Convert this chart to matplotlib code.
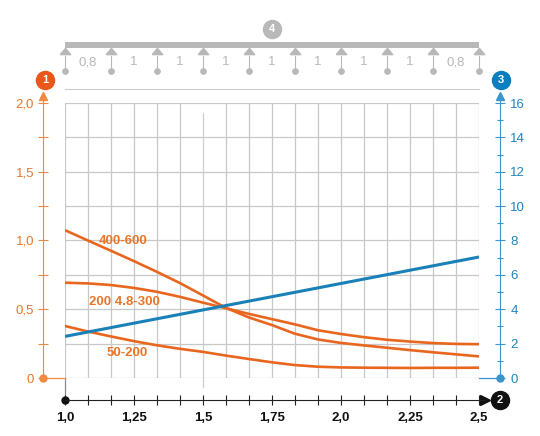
import numpy as np
import matplotlib.pyplot as plt
from matplotlib.ticker import FixedLocator, FixedFormatter

plt.rcParams['font.family'] = ['Liberation Sans', 'DejaVu Sans']

# curve data (left axis) at every grid column
x = [1.0, 1.083, 1.167, 1.25, 1.333, 1.417, 1.5, 1.583, 1.667, 1.75,
     1.833, 1.917, 2.0, 2.083, 2.167, 2.25, 2.333, 2.417, 2.5]
y_400_600 = [1.075, 1.0, 0.925, 0.85, 0.772, 0.69, 0.6, 0.51, 0.44, 0.385,
             0.322, 0.28, 0.255, 0.237, 0.22, 0.203, 0.187, 0.172, 0.157]
y_200_300 = [0.693, 0.688, 0.676, 0.655, 0.627, 0.59, 0.548, 0.507, 0.466, 0.428,
             0.39, 0.347, 0.32, 0.297, 0.278, 0.265, 0.254, 0.248, 0.246]
y_50_200 = [0.378, 0.338, 0.302, 0.268, 0.238, 0.212, 0.19, 0.163, 0.138, 0.114,
            0.094, 0.082, 0.077, 0.075, 0.074, 0.073, 0.074, 0.074, 0.075]
curve_names = ['400-600', '200 4.8-300', '50-200']
label_pos = [(1.212, 1.0), (1.214, 0.553), (1.225, 0.182)]

# blue line (right axis)
x_blue = [1.0, 2.5]
y_blue = [2.42, 7.04]

# top beam spans
spans = ['0,8', '1', '1', '1', '1', '1', '1', '1', '0,8']

left_ticks = [0, 0.5, 1.0, 1.5, 2.0]
left_labels = ['0', '0,5', '1,0', '1,5', '2,0']
right_ticks = [0, 2, 4, 6, 8, 10, 12, 14, 16]
bottom_ticks = [1.0, 1.25, 1.5, 1.75, 2.0, 2.25, 2.5]
bottom_labels = ['1,0', '1,25', '1,5', '1,75', '2,0', '2,25', '2,5']

orange = '#e8661e'
orange_ax = '#f08a40'
orange_txt = '#e8762a'
blue = '#1a80b8'
blue_ax = '#3a95cc'
blue_txt = '#1f84bf'
grid_c = '#c8c8c8'
gray = '#b8b8b8'

fig = plt.figure(figsize=(5.4, 4.36), dpi=100)
ax = fig.add_axes([65/540, 58/436, 414/540, 275/436])
ax.set_xlim(1.0, 2.5)
ax.set_ylim(0, 2.0)
ax2 = ax.twinx()
ax2.set_ylim(0, 16)

# grid
gx = np.linspace(1.0, 2.5, 19)
for g in gx:
    if abs(g - 1.5) < 1e-6:
        continue
    ax.plot([g, g], [0, 2.0], color=grid_c, lw=0.9, zorder=0)
ax.plot([1.5, 1.5], [-0.065, 1.927], color='#cfcfcf', lw=0.9, zorder=0, clip_on=False)
ax.plot([1.0, 1.0], [-0.16, 0], color='#8a8a8a', lw=0.9, zorder=0, clip_on=False)
for g in np.arange(0, 2.01, 0.25):
    ax.plot([1.0, 2.5], [g, g], color=grid_c, lw=0.9, zorder=0)
ax.plot([1.0, 2.5], [2.10, 2.10], color='#cccccc', lw=0.8, clip_on=False)

# curves
for yy in (y_400_600, y_200_300, y_50_200):
    ax.plot(x, yy, color=orange, lw=1.9, solid_capstyle='butt',
            solid_joinstyle='round', zorder=3)
ax2.plot(x_blue, y_blue, color=blue, lw=2.2, solid_capstyle='butt', zorder=4)
for name, (lx, ly) in zip(curve_names, label_pos):
    ax.text(lx, ly, name, color=orange_txt, fontsize=9.5, fontweight='bold',
            ha='center', va='center', zorder=5)

# spines
for s in ['top', 'right']:
    ax.spines[s].set_visible(False)
for s in ['top', 'left', 'bottom']:
    ax2.spines[s].set_visible(False)
ax.spines['left'].set_position(('axes', -0.0531))
ax.spines['left'].set_color(orange_ax)
ax.spines['left'].set_bounds(0, 2.05)
ax.spines['bottom'].set_position(('axes', -0.08))
ax.spines['bottom'].set_color('#222222')
ax.spines['bottom'].set_bounds(1.0, 2.52)
ax2.spines['right'].set_position(('axes', 1.0507))
ax2.spines['right'].set_color(blue_ax)
ax2.spines['right'].set_bounds(0, 16.4)

ax.yaxis.set_major_locator(FixedLocator(left_ticks))
ax.yaxis.set_major_formatter(FixedFormatter(left_labels))
ax.yaxis.set_minor_locator(FixedLocator([0.25, 0.75, 1.25, 1.75]))
ax.tick_params(axis='y', which='both', direction='inout', length=7, width=0.8,
               color=orange_ax, labelcolor=orange_txt, labelsize=9.5, pad=3)
ax.xaxis.set_major_locator(FixedLocator(bottom_ticks))
ax.xaxis.set_major_formatter(FixedFormatter(bottom_labels))
ax.xaxis.set_minor_locator(FixedLocator(gx))
ax.tick_params(axis='x', which='both', direction='inout', length=7, width=0.8,
               color='#222222', labelcolor='#111111', labelsize=9.5, pad=5)
for t in ax.get_xticklabels():
    t.set_fontweight('bold')
ax2.yaxis.set_major_locator(FixedLocator(right_ticks))
ax2.yaxis.set_minor_locator(FixedLocator(range(1, 16, 2)))
ax2.tick_params(axis='y', which='major', direction='inout', length=7, width=0.8,
                color=blue_ax, labelcolor=blue_txt, labelsize=9.5, pad=4)
ax2.tick_params(axis='y', which='minor', direction='inout', length=4, width=0.8,
                color=blue_ax)

# axis ends: dots, arrows, numbered circles
ty = ax.get_yaxis_transform()
tx = ax.get_xaxis_transform()
ax.plot([-0.0531, 0], [0, 0], color=orange_ax, lw=0.9, transform=ty, clip_on=False)
ax.plot([-0.0531], [0], 'o', ms=5, color=orange_ax, transform=ty, clip_on=False)
ax.plot([-0.0531], [2.051], '^', ms=5.5, color=orange_ax, transform=ty, clip_on=False)
ax.plot([1.0, 1.0507], [0, 0], color=blue_ax, lw=0.9, transform=ty, clip_on=False)
ax.plot([1.0507], [0], 'o', ms=5, color=blue_ax, transform=ty, clip_on=False)
ax.plot([1.0507], [2.051], '^', ms=5.5, color=blue_ax, transform=ty, clip_on=False)
ax.plot([1.0], [-0.08], 'o', ms=5, color='#111111', transform=tx, clip_on=False)
ax.plot([2.522], [-0.08], '>', ms=6.5, color='#111111', transform=tx, clip_on=False)

def badge(xx, yy, txt, fc, transform):
    ax.plot([xx], [yy], 'o', ms=13, color=fc, transform=transform, clip_on=False, zorder=6)
    ax.text(xx, yy, txt, color='white', fontsize=8, fontweight='bold', ha='center',
            va='center', transform=transform, zorder=7)

badge(-0.048, 2.167, '1', '#e8581a', ty)
badge(1.053, 2.167, '3', '#0a7fc0', ty)
badge(2.576, -0.08, '2', '#111111', tx)
badge(1.75, 2.538, '4', gray, ax.transData)

# beam with supports
ax.plot([1.0, 2.5], [2.422, 2.422], color=gray, lw=4.3, solid_capstyle='butt', clip_on=False)
sup = np.linspace(1.0, 2.5, len(spans) + 1)
tri = [(-1, -0.6), (1, -0.6), (0, 0.6), (-1, -0.6)]
for sx in sup:
    ax.plot([sx], [2.378], marker=tri, ms=7.5, color=gray, ls='none', clip_on=False)
    ax.plot([sx, sx], [2.345, 2.255], color=gray, lw=0.8, clip_on=False)
    ax.plot([sx], [2.233], 'o', ms=3.8, color=gray, clip_on=False)
for i, s in enumerate(spans):
    ax.text((sup[i] + sup[i + 1]) / 2, 2.298, s, color=gray, fontsize=9.5,
            ha='center', va='center')

fig.savefig('out.png', dpi=100)
